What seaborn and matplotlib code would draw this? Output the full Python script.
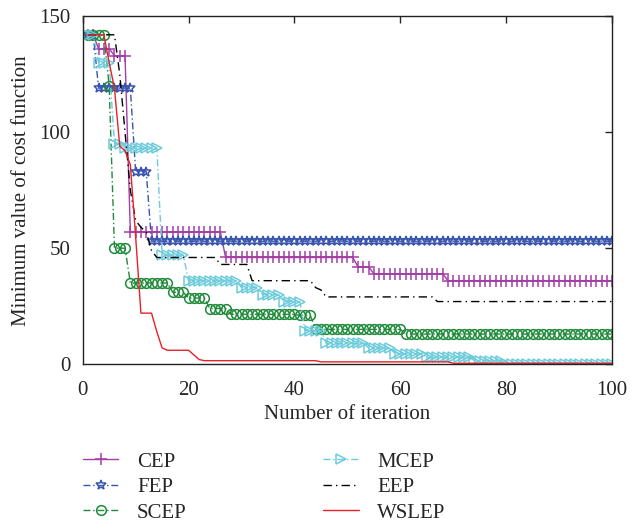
import numpy as np
import pandas as pd
import matplotlib
matplotlib.use("Agg")
import matplotlib.pyplot as plt
import seaborn as sns

# iterations 1..100, series stored as (value, run length)
iterations = list(range(1, 101))

cep_runs = [(142, 2), (136, 3), (133, 3), (57, 18), (46, 25), (42, 3), (39, 14), (36, 32)]
fep_runs = [(142, 2), (119, 7), (83, 3), (53, 88)]
scep_runs = [(142, 4), (120, 1), (50, 3), (35, 8), (31, 3), (28.5, 4), (24, 4),
             (21.5, 13), (21, 3), (15, 17), (13, 40)]
mcep_runs = [(142, 2), (130, 3), (95, 2), (93, 7), (47, 5), (36, 10), (33, 4), (30, 4),
             (27, 4), (14.5, 4), (9, 8), (7, 5), (4.5, 6), (3, 9), (1.5, 6), (0, 21)]
eep_runs = [(142, 6), (125, 1), (100, 1), (75, 1), (62, 1), (59, 1), (57, 1), (49, 1),
            (46, 12), (43, 6), (36, 12), (33, 1), (32, 1), (29, 21), (27, 34)]
wslep_runs = [(142, 4), (130, 1), (119, 1), (94, 1), (92, 1), (86, 1), (55, 1), (22, 3),
              (14, 1), (7, 1), (6, 5), (4, 1), (2, 1), (1.5, 22), (1, 25), (0.4, 31)]

names = ["CEP", "FEP", "SCEP", "MCEP", "EEP", "WSLEP"]
all_runs = [cep_runs, fep_runs, scep_runs, mcep_runs, eep_runs, wslep_runs]


def expand(runs):
    vals = [v for v, n in runs]
    counts = [n for v, n in runs]
    return np.repeat(vals, counts)


dashdot = (0, (5, 2, 1, 2))
styles = {
    "CEP": dict(color="#a23ea6", marker="+", markersize=8.5, linestyle="-",
                markeredgewidth=1.1),
    "FEP": dict(color="#3a55ad", marker="*", markersize=7.5, linestyle=dashdot,
                markerfacecolor="none", markeredgewidth=1.1),
    "SCEP": dict(color="#1f8a3a", marker="o", markersize=7, linestyle=dashdot,
                 markerfacecolor="none", markeredgewidth=1.1),
    "MCEP": dict(color="#6ccbdb", marker=">", markersize=7.5, linestyle=dashdot,
                 markerfacecolor="none", markeredgewidth=1.1),
    "EEP": dict(color="black", marker="None", linestyle=(0, (6, 3, 1, 3))),
    "WSLEP": dict(color="#e8202a", marker="None", linestyle="-"),
}

sns.set_style("white")
plt.rcParams["font.family"] = ["Liberation Serif", "DejaVu Serif"]

fig = plt.figure(figsize=(6.41, 5.24), dpi=100)
ax = fig.add_axes([0.129, 0.305, 0.826, 0.664])

for name, runs in zip(names, all_runs):
    df = pd.DataFrame({"iter": iterations, "val": expand(runs)})
    sns.lineplot(data=df, x="iter", y="val", ax=ax, label=name, linewidth=1.0,
                 color=styles[name]["color"], legend=False)
    line = ax.lines[-1]
    line.set(**styles[name])
    line.set_markeredgecolor(styles[name]["color"])

ax.set_xlim(0, 100)
ax.set_ylim(0, 150)
ax.set_xticks([0, 20, 40, 60, 80, 100])
ax.set_yticks([0, 50, 100, 150])
ax.tick_params(direction="in", top=True, right=True, length=5, width=1, labelsize=15)
ax.tick_params(axis="x", pad=12)
ax.tick_params(axis="y", pad=9)
for s in ax.spines.values():
    s.set_linewidth(1.0)
    s.set_color("#222222")
ax.set_xlabel("Number of iteration", fontsize=15, labelpad=4)
ax.set_ylabel("Minimum value of cost function", fontsize=15, labelpad=6)

handles, labels = ax.get_legend_handles_labels()
fig.legend(handles, labels, ncol=2, loc="lower left", bbox_to_anchor=(0.10, -0.033),
           frameon=False, fontsize=15, numpoints=1, handlelength=1.7,
           columnspacing=6.55, labelspacing=0.28, handletextpad=0.9)

fig.savefig("out.png", dpi=100)
